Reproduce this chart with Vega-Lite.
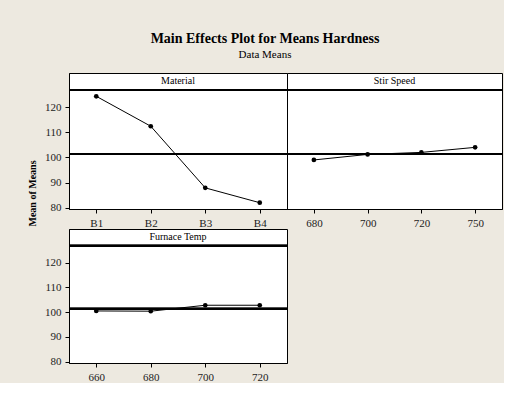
{
  "$schema": "https://vega.github.io/schema/vega-lite/v6.json",
  "padding": {"left": 26, "top": 31, "right": 0, "bottom": 0},
  "background": "#EDE9E0",
  "title": {
    "text": "Main Effects Plot for Means Hardness",
    "subtitle": "Data Means",
    "font": "Liberation Serif",
    "fontSize": 14,
    "fontWeight": "bold",
    "color": "black",
    "subtitleFont": "Liberation Serif",
    "subtitleFontSize": 11,
    "subtitleColor": "black",
    "subtitlePadding": 3,
    "offset": 13,
    "anchor": "middle"
  },
  "datasets": {
    "means": [
      {"factor": "Material", "level": "B1", "mean": 124.3},
      {"factor": "Material", "level": "B2", "mean": 112.4},
      {"factor": "Material", "level": "B3", "mean": 87.9},
      {"factor": "Material", "level": "B4", "mean": 82.0},
      {"factor": "Stir Speed", "level": "680", "mean": 99.0},
      {"factor": "Stir Speed", "level": "700", "mean": 101.2},
      {"factor": "Stir Speed", "level": "720", "mean": 102.0},
      {"factor": "Stir Speed", "level": "750", "mean": 104.0},
      {"factor": "Furnace Temp", "level": "660", "mean": 100.5},
      {"factor": "Furnace Temp", "level": "680", "mean": 100.4},
      {"factor": "Furnace Temp", "level": "700", "mean": 102.8},
      {"factor": "Furnace Temp", "level": "720", "mean": 102.8}
    ]
  },
  "spacing": -7,
  "vconcat": [
    {
      "spacing": 0,
      "bounds": "flush",
      "hconcat": [
        {
          "width": 218, "height": 136,
          "data": {"name": "means"},
          "transform": [{"filter": "datum.factor === 'Material'"}],
          "layer": [
            {"mark": {"type": "rule", "color": "black", "strokeWidth": 2}, "encoding": {"y": {"datum": 101.4, "type": "quantitative", "axis": {"values": [80, 90, 100, 110, 120], "labelOverlap": false, "title": "Mean of Means", "titleFontWeight": "bold", "titleFontSize": 10, "titleColor": "black", "titleX": -32, "titleY": 120}}}},
            {"mark": {"type": "rule", "color": "black", "strokeWidth": 2}, "encoding": {"y": {"datum": 126.8, "type": "quantitative", "axis": {"values": [80, 90, 100, 110, 120], "labelOverlap": false, "title": "Mean of Means", "titleFontWeight": "bold", "titleFontSize": 10, "titleColor": "black", "titleX": -32, "titleY": 120}}}},
            {
              "data": {"values": [{"factor": "Material"}]},
              "mark": {"type": "text", "font": "Liberation Serif", "fontSize": 10, "color": "black"},
              "encoding": {"y": {"datum": 130.2, "type": "quantitative", "axis": {"values": [80, 90, 100, 110, 120], "labelOverlap": false, "title": "Mean of Means", "titleFontWeight": "bold", "titleFontSize": 10, "titleColor": "black", "titleX": -32, "titleY": 120}}, "text": {"field": "factor", "type": "nominal"}}
            },
            {
              "mark": {"type": "line", "color": "black", "strokeWidth": 1, "point": {"filled": true, "size": 22, "color": "black"}},
              "encoding": {
                "x": {"field": "level", "type": "ordinal", "axis": {"title": null, "labelAngle": 0}},
                "y": {"field": "mean", "type": "quantitative", "scale": {"domain": [79.5, 133.56], "nice": false, "zero": false},
                  "axis": {"values": [80, 90, 100, 110, 120], "labelOverlap": false, "title": "Mean of Means", "titleFontWeight": "bold", "titleFontSize": 10, "titleColor": "black", "titleX": -32, "titleY": 120}}
              }
            }
          ]
        },
        {
          "width": 215, "height": 136,
          "data": {"name": "means"},
          "transform": [{"filter": "datum.factor === 'Stir Speed'"}],
          "layer": [
            {"mark": {"type": "rule", "color": "black", "strokeWidth": 2}, "encoding": {"y": {"datum": 101.4, "type": "quantitative", "axis": {"labels": false, "ticks": false, "domain": false, "title": null, "minExtent": 0, "maxExtent": 0, "labelPadding": 0, "offset": 0}}}},
            {"mark": {"type": "rule", "color": "black", "strokeWidth": 2}, "encoding": {"y": {"datum": 126.8, "type": "quantitative", "axis": {"labels": false, "ticks": false, "domain": false, "title": null, "minExtent": 0, "maxExtent": 0, "labelPadding": 0, "offset": 0}}}},
            {
              "data": {"values": [{"factor": "Stir Speed"}]},
              "mark": {"type": "text", "font": "Liberation Serif", "fontSize": 10, "color": "black"},
              "encoding": {"y": {"datum": 130.2, "type": "quantitative", "axis": {"labels": false, "ticks": false, "domain": false, "title": null, "minExtent": 0, "maxExtent": 0, "labelPadding": 0, "offset": 0}}, "text": {"field": "factor", "type": "nominal"}}
            },
            {
              "mark": {"type": "line", "color": "black", "strokeWidth": 1, "point": {"filled": true, "size": 22, "color": "black"}},
              "encoding": {
                "x": {"field": "level", "type": "ordinal", "axis": {"title": null, "labelAngle": 0}},
                "y": {"field": "mean", "type": "quantitative", "scale": {"domain": [79.5, 133.56], "nice": false, "zero": false},
                  "axis": {"labels": false, "ticks": false, "domain": false, "title": null, "minExtent": 0, "maxExtent": 0, "labelPadding": 0, "offset": 0}}
              }
            }
          ]
        }
      ]
    },
    {
      "width": 218, "height": 134,
      "data": {"name": "means"},
      "transform": [{"filter": "datum.factor === 'Furnace Temp'"}],
      "layer": [
        {"mark": {"type": "rule", "color": "black", "strokeWidth": 2}, "encoding": {"y": {"datum": 101.4, "type": "quantitative", "axis": {"values": [80, 90, 100, 110, 120], "labelOverlap": false, "title": "Mean of Means", "titleFontWeight": "bold", "titleFontSize": 10, "titleColor": "#EDE9E0", "titleOpacity": 0, "titleX": -32, "titleY": 60}}}},
        {"mark": {"type": "rule", "color": "black", "strokeWidth": 2}, "encoding": {"y": {"datum": 126.8, "type": "quantitative", "axis": {"values": [80, 90, 100, 110, 120], "labelOverlap": false, "title": "Mean of Means", "titleFontWeight": "bold", "titleFontSize": 10, "titleColor": "#EDE9E0", "titleOpacity": 0, "titleX": -32, "titleY": 60}}}},
        {
          "data": {"values": [{"factor": "Furnace Temp"}]},
          "mark": {"type": "text", "font": "Liberation Serif", "fontSize": 10, "color": "black"},
          "encoding": {"y": {"datum": 130.2, "type": "quantitative", "axis": {"values": [80, 90, 100, 110, 120], "labelOverlap": false, "title": "Mean of Means", "titleFontWeight": "bold", "titleFontSize": 10, "titleColor": "#EDE9E0", "titleOpacity": 0, "titleX": -32, "titleY": 60}}, "text": {"field": "factor", "type": "nominal"}}
        },
        {
          "mark": {"type": "line", "color": "black", "strokeWidth": 1, "point": {"filled": true, "size": 22, "color": "black"}},
          "encoding": {
            "x": {"field": "level", "type": "ordinal", "axis": {"title": null, "labelAngle": 0}},
            "y": {"field": "mean", "type": "quantitative", "scale": {"domain": [79.5, 133.56], "nice": false, "zero": false},
              "axis": {"values": [80, 90, 100, 110, 120], "labelOverlap": false, "title": "Mean of Means", "titleFontWeight": "bold", "titleFontSize": 10, "titleColor": "#EDE9E0", "titleOpacity": 0, "titleX": -32, "titleY": 60}}
          }
        }
      ]
    }
  ],
  "config": {
    "view": {"stroke": "black", "fill": "white", "strokeWidth": 1},
    "axis": {
      "labelFont": "Liberation Serif",
      "labelFontSize": 11,
      "labelColor": "#222222",
      "labelOverlap": false,
      "domainColor": "black",
      "tickColor": "black",
      "tickSize": 4,
      "labelPadding": 4,
      "grid": false,
      "titleFont": "Liberation Serif"
    }
  }
}
